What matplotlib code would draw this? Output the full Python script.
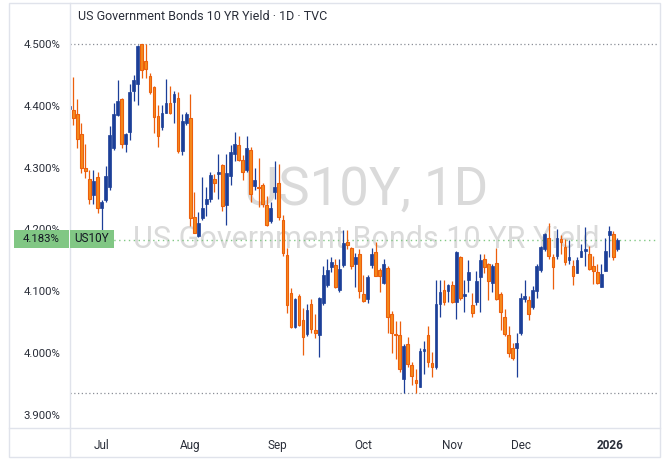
import matplotlib
matplotlib.use("Agg")
import matplotlib.pyplot as plt
import numpy as np
from matplotlib.lines import Line2D
from matplotlib.patches import Rectangle

# ---------------- data ----------------
opens = [4.395, 4.394, 4.387, 4.354, 4.299, 4.281, 4.255, 4.285, 4.235, 4.248,
         4.268, 4.331, 4.385, 4.411, 4.339, 4.357, 4.424, 4.435, 4.500, 4.473,
         4.448, 4.431, 4.384, 4.365, 4.389, 4.405, 4.407, 4.412, 4.327, 4.372,
         4.380, 4.220, 4.189, 4.218, 4.242, 4.250, 4.281, 4.290, 4.304, 4.240,
         4.287, 4.322, 4.336, 4.312, 4.297, 4.329, 4.271, 4.269, 4.272, 4.240,
         4.213, 4.260, 4.276, 4.216, 4.159, 4.097, 4.042, 4.092, 4.054, 4.031,
         4.080, 4.037, 4.029, 4.081, 4.110, 4.139, 4.143, 4.102, 4.143, 4.180,
         4.170, 4.144, 4.160, 4.096, 4.087, 4.143, 4.163, 4.135, 4.114, 4.137,
         4.064, 4.031, 4.029, 3.959, 4.015, 3.981, 3.957, 3.946, 4.003, 4.030,
         3.984, 3.977, 4.079, 4.102, 4.101, 4.110, 4.083, 4.155, 4.093, 4.119,
         4.078, 4.082, 4.123, 4.152, 4.144, 4.114, 4.146, 4.096, 4.059, 4.029,
         4.008, 4.008, 4.032, 4.088, 4.086, 4.075, 4.101, 4.134, 4.168, 4.187,
         4.155, 4.157, 4.184, 4.171, 4.151, 4.141, 4.129, 4.156, 4.166, 4.160,
         4.141, 4.132, 4.107, 4.133, 4.191, 4.193, 4.168]
highs = [4.400, 4.447, 4.411, 4.372, 4.339, 4.296, 4.296, 4.293, 4.248, 4.302,
         4.367, 4.404, 4.441, 4.412, 4.356, 4.436, 4.450, 4.498, 4.500, 4.500,
         4.453, 4.432, 4.401, 4.401, 4.444, 4.432, 4.424, 4.423, 4.387, 4.390,
         4.419, 4.261, 4.229, 4.285, 4.269, 4.293, 4.290, 4.322, 4.306, 4.322,
         4.337, 4.358, 4.351, 4.320, 4.351, 4.333, 4.299, 4.315, 4.276, 4.254,
         4.245, 4.310, 4.306, 4.223, 4.170, 4.105, 4.090, 4.096, 4.073, 4.080,
         4.087, 4.063, 4.091, 4.141, 4.153, 4.155, 4.152, 4.153, 4.199, 4.199,
         4.172, 4.162, 4.168, 4.126, 4.126, 4.170, 4.180, 4.137, 4.152, 4.141,
         4.069, 4.052, 4.052, 4.015, 4.026, 3.986, 3.975, 4.008, 4.020, 4.044,
         4.002, 4.119, 4.118, 4.118, 4.112, 4.116, 4.166, 4.157, 4.119, 4.150,
         4.098, 4.133, 4.161, 4.161, 4.146, 4.144, 4.170, 4.099, 4.071, 4.044,
         4.017, 4.033, 4.098, 4.118, 4.092, 4.109, 4.144, 4.173, 4.195, 4.211,
         4.160, 4.200, 4.191, 4.184, 4.183, 4.150, 4.156, 4.177, 4.204, 4.173,
         4.157, 4.144, 4.144, 4.186, 4.206, 4.198, 4.187]
lows = [4.390, 4.369, 4.331, 4.291, 4.283, 4.242, 4.242, 4.226, 4.199, 4.245,
        4.264, 4.329, 4.384, 4.331, 4.326, 4.345, 4.408, 4.401, 4.445, 4.445,
        4.419, 4.356, 4.334, 4.361, 4.389, 4.387, 4.373, 4.324, 4.320, 4.369,
        4.205, 4.194, 4.188, 4.215, 4.222, 4.245, 4.260, 4.250, 4.230, 4.207,
        4.272, 4.310, 4.310, 4.280, 4.293, 4.245, 4.264, 4.237, 4.237, 4.206,
        4.210, 4.249, 4.215, 4.157, 4.065, 4.040, 4.040, 4.044, 3.997, 4.027,
        4.032, 4.024, 3.993, 4.078, 4.107, 4.132, 4.105, 4.099, 4.140, 4.168,
        4.136, 4.107, 4.090, 4.083, 4.081, 4.137, 4.124, 4.099, 4.112, 4.033,
        4.000, 3.990, 3.970, 3.935, 3.978, 3.948, 3.935, 3.946, 3.967, 3.978,
        3.962, 3.974, 4.059, 4.078, 4.083, 4.081, 4.055, 4.086, 4.067, 4.099,
        4.058, 4.078, 4.067, 4.129, 4.086, 4.099, 4.086, 4.037, 4.027, 3.993,
        3.989, 3.962, 4.029, 4.082, 4.053, 4.071, 4.090, 4.132, 4.166, 4.152,
        4.103, 4.152, 4.161, 4.143, 4.145, 4.110, 4.129, 4.156, 4.141, 4.134,
        4.112, 4.112, 4.107, 4.133, 4.156, 4.150, 4.166]
closes = [4.400, 4.381, 4.346, 4.299, 4.294, 4.249, 4.279, 4.234, 4.244, 4.287,
          4.353, 4.387, 4.408, 4.338, 4.354, 4.423, 4.442, 4.497, 4.458, 4.459,
          4.423, 4.382, 4.352, 4.388, 4.405, 4.389, 4.419, 4.327, 4.375, 4.387,
          4.218, 4.195, 4.211, 4.234, 4.250, 4.288, 4.276, 4.293, 4.238, 4.292,
          4.325, 4.338, 4.313, 4.293, 4.331, 4.258, 4.280, 4.267, 4.241, 4.207,
          4.234, 4.268, 4.221, 4.162, 4.078, 4.042, 4.087, 4.045, 4.026, 4.070,
          4.039, 4.032, 4.089, 4.126, 4.134, 4.148, 4.107, 4.136, 4.178, 4.175,
          4.141, 4.155, 4.101, 4.085, 4.123, 4.160, 4.125, 4.124, 4.144, 4.059,
          4.032, 4.029, 3.975, 4.012, 3.982, 3.963, 3.951, 4.004, 4.006, 3.986,
          3.977, 4.079, 4.099, 4.082, 4.110, 4.083, 4.164, 4.089, 4.095, 4.132,
          4.065, 4.117, 4.151, 4.140, 4.117, 4.141, 4.087, 4.067, 4.031, 4.000,
          3.992, 4.017, 4.090, 4.092, 4.063, 4.102, 4.141, 4.171, 4.193, 4.157,
          4.139, 4.187, 4.179, 4.148, 4.155, 4.125, 4.151, 4.166, 4.168, 4.136,
          4.133, 4.113, 4.128, 4.166, 4.198, 4.156, 4.183]

month_labels = ["Jul", "Aug", "Sep", "Oct", "Nov", "Dec", "2026"]
month_bar_index = [8, 30, 51.5, 73, 95, 112, 134.3]
price_ticks = [3.9, 4.0, 4.1, 4.2, 4.3, 4.4, 4.5]
last_price = 4.183
symbol = "US10Y"
title_text = "US Government Bonds 10 YR Yield \u00b7 1D \u00b7 TVC"
watermark_1 = "US10Y, 1D"
watermark_2 = "US Government Bonds 10 YR Yield"

# ---------------- styling ----------------
W, H = 670, 471
UP = "#1c3f98"
DOWN_FILL = "#f58a1c"
DOWN_EDGE = "#ec5f0c"
TXT = "#2a2e39"
GREEN = "#81c784"
BORDER = "#e0e3eb"
FONT = "Roboto"

def fx(px):
    return px / W

def fy(py):
    return 1 - py / H

fig = plt.figure(figsize=(W / 100, H / 100), dpi=100, facecolor="white")

# plot region in pixels
PL, PR, PT, PB = 70, 658, 5, 428
ax = fig.add_axes([fx(PL), fy(PB), fx(PR) - fx(PL), fy(PT) - fy(PB)])
ax.set_facecolor("white")
for s in ax.spines.values():
    s.set_visible(False)

O = np.array(opens); Hh = np.array(highs); L = np.array(lows); C = np.array(closes)
x = np.arange(len(O))
up = C >= O

wick_colors = [UP if u else DOWN_EDGE for u in up]
ax.vlines(x, L, Hh, colors=wick_colors, linewidth=0.9, zorder=3)
bottom = np.minimum(O, C)
height = np.maximum(np.abs(C - O), 0.0018)
ax.bar(x[up], height[up], bottom=bottom[up], width=0.68, color=UP,
       edgecolor=UP, linewidth=0.5, zorder=4)
ax.bar(x[~up], height[~up], bottom=bottom[~up], width=0.68, color=DOWN_FILL,
       edgecolor=DOWN_EDGE, linewidth=0.8, zorder=4)

# axis scaling: 4.5 at pixel 44, 3.9 at pixel 415
ppu = (415 - 44) / 0.6
ytop = 4.5 + (44 - PT) / ppu
ybot = ytop - (PB - PT) / ppu
ax.set_ylim(ybot, ytop)
x0 = 69.3
step = 4.03
ax.set_xlim((PL - x0) / step, (PR - x0) / step)

# high / low dotted lines & last price line
ax.axhline(max(highs), color="#8a8e97", linestyle=(0, (1, 2)), linewidth=0.9, zorder=2)
ax.axhline(min(lows), color="#8a8e97", linestyle=(0, (1, 2)), linewidth=0.9, zorder=2)
ax.axhline(last_price, color=GREEN, linestyle=(0, (1, 2.5)), linewidth=1.0, zorder=2)

# ticks
ax.set_yticks(price_ticks)
ax.set_yticklabels([f"{v:.3f}%" for v in price_ticks])
ax.tick_params(axis="y", length=0, pad=7, labelsize=8.2, labelcolor=TXT)
ax.set_xticks(month_bar_index)
ax.set_xticklabels(month_labels)
ax.tick_params(axis="x", length=0, pad=8, labelsize=8.5, labelcolor=TXT)
for lab in ax.get_yticklabels() + ax.get_xticklabels():
    lab.set_fontfamily(FONT)
ax.get_xticklabels()[-1].set_fontweight("bold")

# watermark
fig.text(fx(366), fy(190), watermark_1, fontsize=38, color="#dadada",
         ha="center", va="center", family=FONT, zorder=0)
fig.text(fx(366), fy(240), watermark_2, fontsize=22, color="#dadada",
         ha="center", va="center", family=FONT, zorder=0)
ax.set_zorder(1)
ax.patch.set_alpha(0)

# title
fig.text(fx(78), fy(17), title_text, fontsize=9, color=TXT, ha="left",
         va="center", family=FONT)

# frame lines
fig.add_artist(Line2D([fx(PL), fx(PL)], [fy(3), fy(457)], color=BORDER, lw=1))
fig.add_artist(Line2D([fx(9), fx(660)], [fy(PB), fy(PB)], color=BORDER, lw=1))
fig.add_artist(Rectangle((fx(9), fy(457)), fx(660) - fx(9), fy(3) - fy(457),
                         fill=False, edgecolor=BORDER, lw=1))

# last price label boxes
ly = 239
fig.add_artist(Rectangle((fx(14), fy(ly + 9)), fx(69) - fx(14), fy(ly - 9) - fy(ly + 9),
                         facecolor=GREEN, edgecolor="none", zorder=5))
fig.add_artist(Rectangle((fx(70), fy(ly + 9)), fx(114) - fx(70), fy(ly - 9) - fy(ly + 9),
                         facecolor=GREEN, edgecolor="none", zorder=5))
fig.text(fx(41.5), fy(ly), f"{last_price:.3f}%", fontsize=8.2, color="#131722",
         ha="center", va="center", family=FONT, zorder=6)
fig.text(fx(92), fy(ly), symbol, fontsize=8.5, color="#131722",
         ha="center", va="center", family=FONT, zorder=6)

fig.savefig("out.png", dpi=100, facecolor="white")
